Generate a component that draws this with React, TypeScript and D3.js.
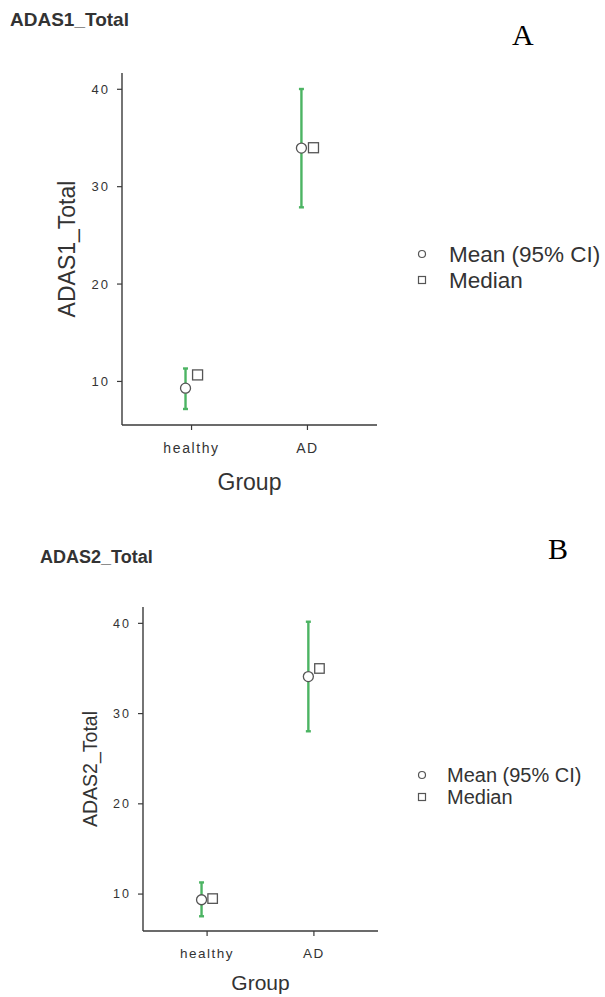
import React from "react";
import * as d3 from "d3";

const groups = ["healthy", "AD"];
const yTicks = [10, 20, 30, 40];

const adas1Mean = [9.31, 33.96];
const adas1Lower = [7.17, 27.88];
const adas1Upper = [11.33, 40.03];
const adas1Median = [10.67, 34.0];

const adas2Mean = [9.37, 34.1];
const adas2Lower = [7.54, 28.04];
const adas2Upper = [11.29, 40.18];
const adas2Median = [9.5, 35.0];

const GREEN = "#4cb463";
const AXIS = "#3a3a3a";
const TXT = "#333333";
const SANS = "'Liberation Sans', Arial, sans-serif";

type PanelProps = {
  title: string;
  yLabel: string;
  letter: string;
  mean: number[];
  lower: number[];
  upper: number[];
  median: number[];
  L: any;
};

function Panel({ title, yLabel, letter, mean, lower, upper, median, L }: PanelProps) {
  const lo = d3.min(lower)!;
  const hi = d3.max(upper)!;
  const pad = (hi - lo) * 0.05;
  const y = d3.scaleLinear().domain([lo - pad, hi + pad]).range([L.bottom, L.top]);
  const x = d3.scalePoint<string>().domain(groups).range([L.left, L.right]).padding(0.6);
  const dodge = x.step() * 0.052;
  return (
    <g>
      <text x={L.titleX} y={L.titleY} fontFamily={SANS} fontWeight="bold" fontSize={L.titleSize} fill={TXT}>
        {title}
      </text>
      <text x={L.letterX} y={L.letterY} fontFamily="'Liberation Serif', 'Times New Roman', serif" fontSize={30} fill="#000">
        {letter}
      </text>
      <line x1={L.left} x2={L.left} y1={L.top} y2={L.bottom} stroke={AXIS} strokeWidth={1.4} />
      <line x1={L.left} x2={L.right} y1={L.bottom} y2={L.bottom} stroke={AXIS} strokeWidth={1.4} />
      {yTicks.map((t) => (
        <g key={t}>
          <line x1={L.left - 5} x2={L.left} y1={y(t)} y2={y(t)} stroke={AXIS} strokeWidth={1.2} />
          <text
            x={L.left - 12}
            y={y(t)}
            dy="0.35em"
            textAnchor="end"
            fontFamily={SANS}
            fontSize={L.tickSize}
            letterSpacing={L.tickSpacing}
            fill={TXT}
          >
            {t}
          </text>
        </g>
      ))}
      {groups.map((g) => (
        <g key={g}>
          <line x1={x(g)} x2={x(g)} y1={L.bottom} y2={L.bottom + 5} stroke={AXIS} strokeWidth={1.2} />
          <text
            x={x(g)!}
            y={L.bottom + L.xTickDy}
            textAnchor="middle"
            fontFamily={SANS}
            fontSize={L.xTickSize}
            letterSpacing={L.xTickSpacing}
            fill={TXT}
          >
            {g}
          </text>
        </g>
      ))}
      <text
        x={(L.left + L.right) / 2}
        y={L.bottom + L.xTitleDy}
        textAnchor="middle"
        fontFamily={SANS}
        fontSize={L.xTitleSize}
        fill={TXT}
      >
        Group
      </text>
      <text
        transform={`translate(${L.yTitleX},${(L.top + L.bottom) / 2}) rotate(-90)`}
        textAnchor="middle"
        fontFamily={SANS}
        fontSize={L.yTitleSize}
        fill={TXT}
      >
        {yLabel}
      </text>
      {groups.map((g, i) => {
        const cx = x(g)! - dodge;
        const mx = x(g)! + dodge;
        const s = L.sq;
        return (
          <g key={g}>
            <line x1={cx} x2={cx} y1={y(lower[i])} y2={y(upper[i])} stroke={GREEN} strokeWidth={2.4} />
            <line x1={cx - 2.5} x2={cx + 2.5} y1={y(lower[i])} y2={y(lower[i])} stroke={GREEN} strokeWidth={2.4} />
            <line x1={cx - 2.5} x2={cx + 2.5} y1={y(upper[i])} y2={y(upper[i])} stroke={GREEN} strokeWidth={2.4} />
            <rect x={mx - s / 2} y={y(median[i]) - s / 2} width={s} height={s} fill="#fff" stroke="#555" strokeWidth={1.3} />
            <circle cx={cx} cy={y(mean[i])} r={L.r} fill="#fff" stroke="#555" strokeWidth={1.3} />
          </g>
        );
      })}
      <circle cx={L.legX} cy={L.legY1} r={3.5} fill="#fff" stroke="#555" strokeWidth={1.2} />
      <text x={L.legTextX} y={L.legY1} dy="0.35em" fontFamily={SANS} fontSize={L.legSize} fill={TXT}>
        Mean (95% CI)
      </text>
      <rect x={L.legX - 3.5} y={L.legY2 - 3.5} width={7} height={7} fill="#fff" stroke="#555" strokeWidth={1.2} />
      <text x={L.legTextX} y={L.legY2} dy="0.35em" fontFamily={SANS} fontSize={L.legSize} fill={TXT}>
        Median
      </text>
    </g>
  );
}

const layoutA = {
  left: 122, right: 377, top: 73, bottom: 425,
  titleX: 10, titleY: 26, titleSize: 19,
  letterX: 512, letterY: 45,
  tickSize: 13, tickSpacing: 2,
  xTickSize: 14, xTickSpacing: 1.6, xTickDy: 28,
  xTitleSize: 23, xTitleDy: 65,
  yTitleX: 75, yTitleSize: 23,
  r: 5, sq: 10,
  legX: 422, legY1: 254, legY2: 280, legTextX: 449, legSize: 22.5,
};

const layoutB = {
  left: 143, right: 378, top: 607, bottom: 931,
  titleX: 40, titleY: 563, titleSize: 18,
  letterX: 548, letterY: 559,
  tickSize: 12.5, tickSpacing: 2,
  xTickSize: 13.5, xTickSpacing: 1.5, xTickDy: 27,
  xTitleSize: 21, xTitleDy: 59,
  yTitleX: 97, yTitleSize: 19.5,
  r: 5, sq: 9.5,
  legX: 422, legY1: 775, legY2: 797, legTextX: 447, legSize: 20,
};

export default function App() {
  return (
    <svg width={605} height={997} style={{ position: "absolute", left: 0, top: 0, background: "#fff" }}>
      <Panel
        title="ADAS1_Total"
        yLabel="ADAS1_Total"
        letter="A"
        mean={adas1Mean}
        lower={adas1Lower}
        upper={adas1Upper}
        median={adas1Median}
        L={layoutA}
      />
      <Panel
        title="ADAS2_Total"
        yLabel="ADAS2_Total"
        letter="B"
        mean={adas2Mean}
        lower={adas2Lower}
        upper={adas2Upper}
        median={adas2Median}
        L={layoutB}
      />
    </svg>
  );
}
